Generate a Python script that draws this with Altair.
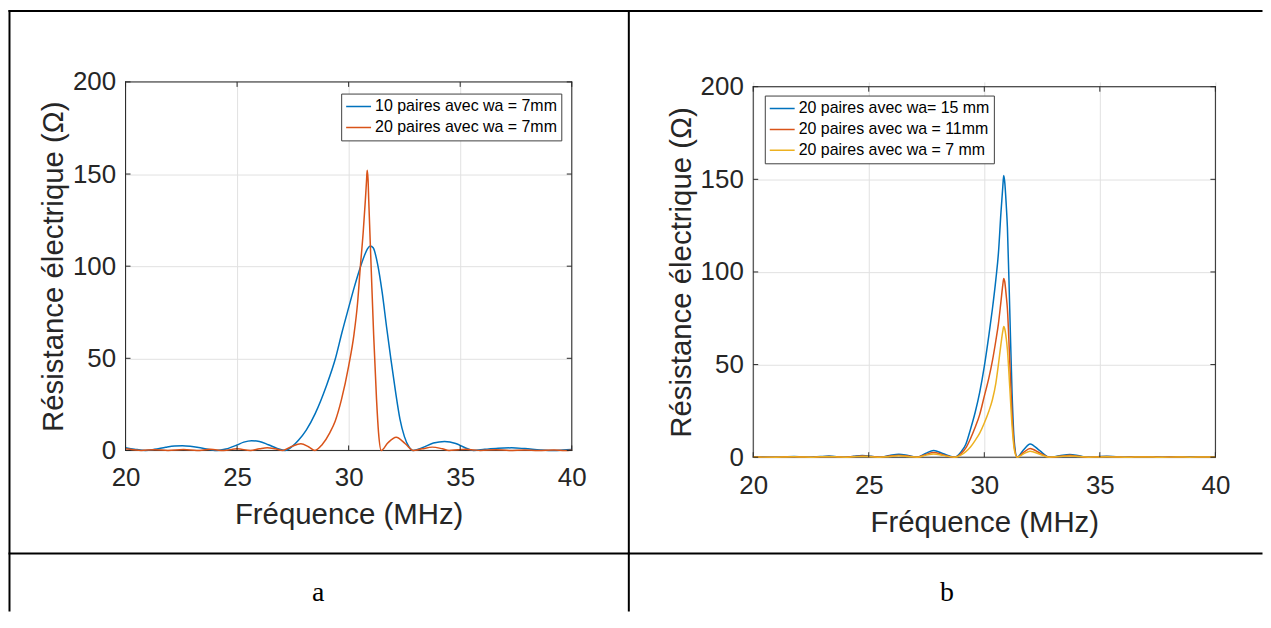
import altair as alt
import pandas as pd

# ---------------- data ----------------
# Panel a
freq_a_10 = [20.0, 20.4, 20.9, 21.3, 21.8, 22.2, 22.55, 22.9, 23.4, 23.8, 24.1, 24.5, 25.0, 25.3, 25.65,
             26.0, 26.4, 26.8, 27.15, 27.5, 27.75, 28.1, 28.5, 29.0, 29.41, 29.7, 30.0, 30.25, 30.46, 30.7,
             30.85, 30.97, 31.1, 31.3, 31.5, 31.7, 31.9, 32.1, 32.3, 32.5, 32.7, 32.88, 33.3, 33.8, 34.3,
             34.8, 35.2, 35.6, 36.1, 36.7, 37.3, 37.9, 38.6, 39.2, 39.6, 40.0]
res_a_10 = [1.5, 0.7, 0.0, 0.6, 1.7, 2.4, 2.6, 2.3, 1.3, 0.4, 0.0, 0.8, 3.0, 4.5, 5.3,
            4.9, 3.1, 1.1, 0.0, 2.5, 5.5, 11.0, 20.0, 35.0, 50.0, 64.0, 77.5, 88.5, 97.0, 105.5,
            109.5, 111.0, 110.0, 101.0, 86.0, 67.0, 49.0, 32.0, 17.0, 7.5, 2.0, 0.0, 1.5, 4.0, 4.9,
            3.8, 1.6, 0.0, 0.6, 1.2, 1.4, 1.0, 0.3, 0.0, 0.2, 0.5]

freq_a_20 = [20.0, 20.35, 20.7, 21.3, 21.9, 22.6, 23.2, 23.8, 24.4, 25.0, 25.6, 26.0, 26.35, 26.7, 27.05,
             27.45, 27.86, 28.2, 28.49, 28.8, 29.16, 29.4, 29.68, 30.0, 30.24, 30.4, 30.52, 30.65, 30.75,
             30.8, 30.83, 30.87, 30.9, 31.01, 31.12, 31.25, 31.34, 31.46, 31.75, 32.13, 32.55, 32.9, 33.3,
             33.75, 34.2, 34.5, 34.9, 35.25, 35.6, 35.9, 36.6, 37.2, 37.9, 38.5, 39.2, 39.7, 40.0]
res_a_20 = [0.9, 0.4, 0.0, 0.4, 0.0, 0.5, 0.0, 0.6, 0.0, 0.9, 0.0, 0.9, 1.5, 0.9, 0.0,
            2.2, 3.6, 2.0, 0.0, 3.0, 9.7, 16.0, 27.7, 45.8, 63.0, 80.0, 99.0, 118.0, 136.0,
            146.0, 152.0, 147.0, 136.0, 99.0, 63.0, 27.7, 9.7, 0.0, 4.0, 7.2, 3.5, 0.0, 0.9,
            1.8, 0.9, 0.0, 0.4, 0.6, 0.3, 0.0, 0.4, 0.0, 0.3, 0.0, 0.25, 0.0, 0.3]

# Panel b (common frequency grid)
freq_b = [20.0, 20.4, 21.0, 21.4, 21.77, 22.1, 22.5, 22.9, 23.28, 23.65, 24.0, 24.35, 24.72, 25.1, 25.5,
          25.9, 26.3, 26.7, 27.09, 27.45, 27.81, 28.2, 28.7, 29.0, 29.2, 29.4, 29.6, 29.8, 30.0, 30.2,
          30.35, 30.5, 30.61, 30.72, 30.8, 30.84, 30.88, 30.95, 31.0, 31.1, 31.2, 31.3, 31.42, 31.7,
          31.98, 32.4, 32.81, 33.25, 33.7, 34.1, 34.5, 34.9, 35.3, 35.7, 36.1, 36.5, 36.9, 37.3, 37.7,
          38.3, 38.9, 39.5, 40.0]
res_b_15 = [0.3, 0.1, 0.0, 0.25, 0.4, 0.2, 0.0, 0.35, 0.6, 0.3, 0.0, 0.5, 0.9, 0.5, 0.0,
            0.9, 1.6, 0.9, 0.0, 2.0, 3.6, 2.0, 0.0, 3.0, 7.0, 15.0, 24.0, 35.0, 49.0, 66.0,
            80.0, 96.0, 110.0, 132.0, 146.0, 152.0, 149.0, 136.0, 124.0, 80.0, 35.0, 8.0, 0.0, 4.0,
            7.2, 3.5, 0.0, 0.8, 1.5, 0.8, 0.0, 0.3, 0.5, 0.25, 0.0, 0.15, 0.3, 0.15, 0.0,
            0.2, 0.1, 0.15, 0.2]
res_b_11 = [0.2, 0.05, 0.0, 0.2, 0.3, 0.15, 0.0, 0.25, 0.4, 0.2, 0.0, 0.35, 0.6, 0.35, 0.0,
            0.6, 1.1, 0.6, 0.0, 1.4, 2.5, 1.4, 0.0, 2.0, 5.0, 10.0, 16.0, 23.0, 33.0, 43.0,
            52.0, 63.0, 72.0, 84.0, 93.0, 96.5, 95.0, 87.0, 80.0, 52.0, 23.0, 5.5, 0.0, 2.6,
            4.7, 2.3, 0.0, 0.5, 1.0, 0.5, 0.0, 0.2, 0.35, 0.15, 0.0, 0.1, 0.2, 0.1, 0.0,
            0.15, 0.05, 0.1, 0.15]
res_b_7 = [0.15, 0.05, 0.0, 0.15, 0.2, 0.1, 0.0, 0.2, 0.3, 0.15, 0.0, 0.25, 0.45, 0.25, 0.0,
           0.45, 0.8, 0.45, 0.0, 1.0, 1.8, 1.0, 0.0, 1.3, 3.0, 5.5, 9.0, 13.0, 18.5, 25.0,
           31.0, 40.0, 50.0, 61.0, 68.0, 70.5, 69.5, 64.0, 58.0, 38.0, 17.0, 4.0, 0.0, 1.8,
           3.2, 1.6, 0.0, 0.35, 0.7, 0.35, 0.0, 0.15, 0.25, 0.1, 0.0, 0.08, 0.15, 0.08, 0.0,
           0.1, 0.04, 0.08, 0.1]

labels_a = ["10 paires avec wa = 7mm", "20 paires avec wa = 7mm"]
labels_b = ["20 paires avec wa= 15 mm", "20 paires avec wa = 11mm", "20 paires avec wa = 7 mm"]
colors_a = ["#0072BD", "#D95319"]
colors_b = ["#0072BD", "#D95319", "#EDB120"]
x_ticks = [20, 25, 30, 35, 40]
y_ticks = [0, 50, 100, 150, 200]
captions = ["a", "b"]
x_title = "Fréquence (MHz)"
y_title = "Résistance électrique (Ω)"

# ---------------- helpers ----------------
FONT = "Liberation Sans"
AXC = "#262626"
one = pd.DataFrame({"k": [0]})


def make_axes(xlabpad, xtitlepad):
    common = dict(grid=True, gridColor="#e1e1e1", gridWidth=1, domain=False, ticks=False, tickSize=0,
                  labelFlush=False, labelOverlap=False, labelFont=FONT, labelFontSize=26,
                  labelColor=AXC, titleFont=FONT, titleFontSize=29.5, titleColor=AXC,
                  titleFontWeight="normal")
    ax_x = alt.Axis(values=x_ticks, title=x_title, labelPadding=xlabpad, titlePadding=xtitlepad, **common)
    ax_y = alt.Axis(values=y_ticks, title=y_title, labelPadding=10, titlePadding=4, **common)
    return ax_x, ax_y


def series_df(pairs):
    frames = []
    for name, f, r in pairs:
        frames.append(pd.DataFrame({"f": f, "R": r, "serie": name}))
    return pd.concat(frames, ignore_index=True)


def lines(df, labels, colors, xs, ys, ax_x, ax_y, leg_x, leg_y):
    return alt.Chart(df).mark_line(interpolate="monotone", strokeWidth=1.5).encode(
        x=alt.X("f:Q", scale=xs, axis=ax_x),
        y=alt.Y("R:Q", scale=ys, axis=ax_y),
        color=alt.Color("serie:N", scale=alt.Scale(domain=labels, range=colors), legend=alt.Legend(
            orient="none", legendX=leg_x, legendY=leg_y, direction="vertical", title=None,
            strokeColor="#404040", fillColor="white", padding=4, cornerRadius=0,
            labelFont=FONT, labelFontSize=16, labelColor="black", labelLimit=400, labelOffset=3,
            symbolType="stroke", symbolStrokeWidth=1.5, symbolSize=625, clipHeight=18,
            rowPadding=3)),
    )


def ticks(xs, ys, ax_x, ax_y, W, top, bot):
    xt = pd.DataFrame({"t": x_ticks})
    yt = pd.DataFrame({"v": y_ticks})
    st = dict(color=AXC, strokeWidth=1)
    return [
        alt.Chart(xt).mark_rule(**st).encode(x=alt.X("t:Q", scale=xs, axis=ax_x), y=alt.value(bot), y2=alt.value(bot - 5)),
        alt.Chart(xt).mark_rule(**st).encode(x=alt.X("t:Q", scale=xs, axis=ax_x), y=alt.value(top), y2=alt.value(top + 5)),
        alt.Chart(yt).mark_rule(**st).encode(y=alt.Y("v:Q", scale=ys, axis=ax_y), x=alt.value(0), x2=alt.value(5)),
        alt.Chart(yt).mark_rule(**st).encode(y=alt.Y("v:Q", scale=ys, axis=ax_y), x=alt.value(W), x2=alt.value(W - 5)),
    ]


def hrule(x1, x2, y, **kw):
    st = dict(color="black", strokeWidth=2, strokeCap="square")
    st.update(kw)
    return alt.Chart(one).mark_rule(**st).encode(x=alt.value(x1), x2=alt.value(x2), y=alt.value(y))


def vrule(x, y1, y2, **kw):
    st = dict(color="black", strokeWidth=2, strokeCap="square")
    st.update(kw)
    return alt.Chart(one).mark_rule(**st).encode(x=alt.value(x), y=alt.value(y1), y2=alt.value(y2))


def box(W, top, bot):
    st = dict(color=AXC, strokeWidth=1)
    return [hrule(0, W, top, **st), hrule(0, W, bot, **st), vrule(0, top, bot, **st), vrule(W, top, bot, **st)]


def caption(txt, x, y):
    return alt.Chart(pd.DataFrame({"c": [txt]})).mark_text(
        font="Liberation Serif", fontSize=28, color="black", align="center", baseline="alphabetic"
    ).encode(text="c:N", x=alt.value(x), y=alt.value(y))


# ---------------- panel a ----------------
WA, HA = 448, 370
xs_a = alt.Scale(domain=[20, 40], nice=False, zero=False)
ys_a = alt.Scale(domain=[0, 200], nice=False, zero=False)
axx_a, axy_a = make_axes(14, 10)
df_a = series_df([(labels_a[0], freq_a_10, res_a_10), (labels_a[1], freq_a_20, res_a_20)])
panel_a = alt.layer(
    *box(WA, 0, HA),
    lines(df_a, labels_a, colors_a, xs_a, ys_a, axx_a, axy_a, 216.5, 11.7),
    *ticks(xs_a, ys_a, axx_a, axy_a, WA, 0, HA),
    vrule(-116.5, -71.3, 530.7),
    hrule(-116.5, 505.3, -71.3),
    hrule(-116.5, 505.3, 473.4),
    vrule(505.3, -71.3, 530.7),
    caption(captions[0], 193.5, 521.4),
).properties(width=WA, height=HA)

# ---------------- panel b ----------------
WB, HB, DB = 464, 372, 4.8
GAP = 182.2  # distance between the two plot areas
xs_b = alt.Scale(domain=[20, 40], nice=False, zero=False)
ys_b = alt.Scale(domain=[0, 200], nice=False, zero=False, range=[HB + DB, DB])
axx_b, axy_b = make_axes(15.5, 10.5)
df_b = series_df([(labels_b[0], freq_b, res_b_15), (labels_b[1], freq_b, res_b_11), (labels_b[2], freq_b, res_b_7)])
panel_b = alt.layer(
    *box(WB, DB, HB + DB),
    lines(df_b, labels_b, colors_b, xs_b, ys_b, axx_b, axy_b, 11.6, 13.7),
    *ticks(xs_b, ys_b, axx_b, axy_b, WB, DB, HB + DB),
    hrule(-124.9, 510.3, -71.3),
    hrule(-124.9, 510.3, 473.4),
    caption(captions[1], 194.6, 521.4),
).properties(width=WB, height=HB + DB)

chart = alt.hconcat(panel_a, panel_b, spacing=GAP, bounds="flush").resolve_scale(
    color="independent", x="independent", y="independent"
).resolve_legend(color="independent").properties(
    padding=0, background="white"
).configure_view(strokeOpacity=0)

chart.save("out.html", embed_options={"renderer": "svg", "actions": False})
